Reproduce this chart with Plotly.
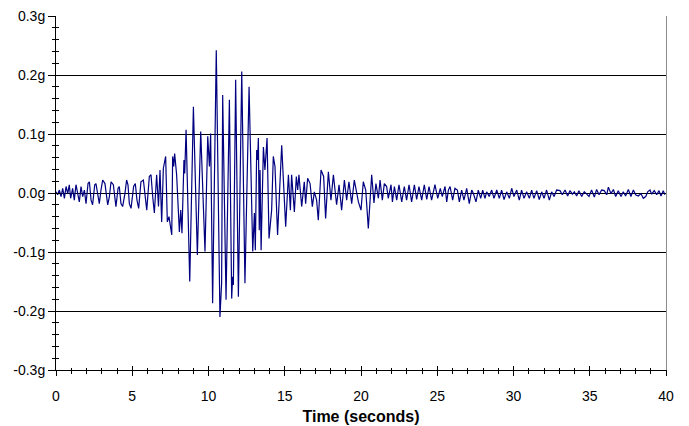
import plotly.graph_objects as go

# ---- data (local peaks/troughs of the record) ----
time_s = [
    0, 0.11, 0.22, 0.33, 0.44, 0.55, 0.66, 0.77, 0.87, 0.96, 1.09, 1.20, 1.31, 1.42, 1.53, 1.64, 1.75, 1.86, 1.97,
    2.10, 2.19, 2.30, 2.40, 2.54, 2.62, 2.73, 2.84, 2.95, 3.06, 3.21, 3.28, 3.39, 3.50, 3.61, 3.76, 3.83, 3.93,
    4.07, 4.15, 4.26, 4.37, 4.52, 4.63, 4.72, 4.81, 4.92, 5.09, 5.20, 5.31, 5.42, 5.57, 5.73, 5.84, 5.95,
    6.12, 6.23, 6.34, 6.45, 6.60, 6.72, 6.82, 6.93, 7.04, 7.19, 7.30, 7.41, 7.59, 7.65, 7.72, 7.78, 7.91,
    8.09, 8.18, 8.26, 8.39, 8.44, 8.53, 8.77, 9.01, 9.27, 9.49, 9.77, 9.95, 10.06, 10.14, 10.27, 10.51,
    10.75, 10.86, 10.93, 11.15, 11.37, 11.52, 11.58, 11.63, 11.78, 11.96, 12.18, 12.39, 12.66, 12.90,
    13.01, 13.07, 13.16, 13.22, 13.27, 13.33, 13.38, 13.45, 13.60, 13.70, 13.84, 13.97, 14.14, 14.25,
    14.36, 14.53, 14.80, 15.06, 15.24, 15.37, 15.45, 15.63, 15.76, 15.85, 15.93, 16.11, 16.28, 16.37,
    16.50, 16.66, 16.81, 16.94, 17.09, 17.20, 17.38, 17.55, 17.68, 17.86, 18.03, 18.19, 18.40, 18.56,
    18.73, 18.91, 19.06, 19.21, 19.39, 19.56, 19.83, 20.00, 20.15, 20.31, 20.48, 20.70, 20.85, 20.98,
    21.14, 21.25, 21.40, 21.53, 21.68, 21.79, 21.97, 22.06, 22.19, 22.34, 22.49, 22.67, 22.84, 22.99,
    23.15, 23.32, 23.50, 23.65, 23.80, 23.98, 24.15, 24.31, 24.46, 24.63, 24.85, 25.03, 25.20, 25.33,
    25.51, 25.62, 25.73, 25.84, 26.01, 26.16, 26.32, 26.45, 26.60, 26.75, 26.93, 27.10, 27.26, 27.37,
    27.54, 27.69, 27.85, 27.98, 28.13, 28.24, 28.41, 28.57, 28.72, 28.90, 29.07, 29.22, 29.38, 29.55,
    29.73, 29.88, 30.03, 30.21, 30.38, 30.53, 30.69, 30.86, 31.04, 31.19, 31.34, 31.52, 31.69, 31.85,
    32.00, 32.17, 32.35, 32.50, 32.66, 32.83, 33.05, 33.20, 33.38, 33.55, 33.70, 33.86, 33.99, 34.14,
    34.29, 34.47, 34.64, 34.80, 34.95, 35.12, 35.30, 35.45, 35.61, 35.78, 35.95, 36.11, 36.22, 36.39,
    36.55, 36.70, 36.87, 37.05, 37.20, 37.35, 37.53, 37.70, 37.86, 38.01, 38.18, 38.36, 38.51, 38.67,
    38.80, 38.95, 39.06, 39.23, 39.39, 39.54, 39.67, 39.82, 39.93,
]
accel_g = [
    0.002, -0.003, 0.005, -0.006, 0.008, -0.009, 0.011, -0.001, 0.014, -0.009, 0.008, -0.012, 0.014, 0.002, -0.015, 0.011, -0.006, 0.005, -0.018,
    0.016, 0.019, -0.012, -0.020, 0.014, 0.016, -0.001, -0.018, 0.005, 0.022, 0.016, -0.003, -0.020, -0.006, 0.019, 0.014, -0.001, -0.023,
    0.008, 0.011, -0.018, -0.023, -0.001, 0.022, 0.014, -0.018, -0.026, 0.011, 0.016, -0.012, -0.026, 0.019, 0.022, -0.006, -0.029,
    0.028, 0.031, -0.006, -0.034, 0.031, -0.023, 0.039, -0.049, 0.042, 0.062, -0.049, -0.040, -0.071, 0.062, 0.045, 0.067, 0.031,
    -0.066, -0.029, -0.068, 0.056, 0.033, 0.107, -0.150, 0.146, -0.105, 0.104, -0.099, 0.096, 0.045, 0.101, -0.187, 0.242,
    -0.210, -0.153, 0.166, -0.181, 0.158, -0.179, -0.142, -0.156, 0.192, -0.176, 0.206, -0.153, 0.180, -0.099,
    -0.034, -0.097, 0.073, 0.056, 0.093, -0.063, 0.039, -0.097, 0.078, 0.039, 0.093, -0.077, -0.029, 0.062,
    0.045, -0.071, 0.081, -0.057, 0.031, -0.029, 0.031, -0.032, 0.028, 0.005, 0.031, -0.023, 0.019, -0.018,
    0.025, 0.016, -0.023, 0.002, -0.012, -0.046, 0.039, 0.028, -0.043, 0.036, -0.012, 0.031, -0.020, 0.014,
    -0.029, 0.022, -0.012, 0.019, -0.018, 0.022, -0.015, -0.029, 0.019, 0.005, -0.060, 0.031, -0.017, 0.016,
    -0.009, 0.022, -0.012, 0.016, 0.011, -0.009, 0.014, -0.015, 0.011, -0.012, 0.014, -0.015, 0.011, -0.012,
    0.014, -0.015, 0.014, -0.011, 0.011, -0.012, 0.014, -0.011, 0.011, -0.012, 0.014, -0.009, 0.008, -0.006,
    0.011, -0.015, 0.005, 0.011, -0.012, 0.008, 0.005, -0.015, 0.005, -0.012, 0.008, -0.018, 0.005, -0.001,
    -0.015, 0.005, -0.009, 0.005, -0.009, 0.002, -0.006, 0.005, -0.009, 0.005, -0.009, 0.005, -0.011, 0.002,
    -0.009, 0.008, -0.006, 0.005, -0.012, 0.005, -0.009, 0.002, -0.009, 0.005, -0.009, 0.004, -0.011, 0.002,
    -0.009, 0.005, -0.012, 0.002, -0.006, 0.005, 0.004, -0.003, 0.005, -0.005, 0.004, -0.002, 0.002, -0.005,
    0.004, -0.006, 0.002, -0.002, -0.006, 0.005, -0.007, 0.006, -0.003, 0.005, 0.004, -0.003, 0.010, -0.001,
    0.006, -0.006, 0.004, -0.006, 0.002, -0.005, 0.006, -0.006, 0.005, -0.003, -0.005, -0.001, -0.009, -0.006,
    0.002, 0.005, -0.002, 0.004, -0.003, 0.004, -0.005, 0.004, -0.003,
]

x_tick_vals = [0, 5, 10, 15, 20, 25, 30, 35, 40]
x_tick_labels = ["0", "5", "10", "15", "20", "25", "30", "35", "40"]
y_tick_vals = [-0.3, -0.2, -0.1, 0.0, 0.1, 0.2, 0.3]
y_tick_labels = ["-0.3g", "-0.2g", "-0.1g", "0.0g", "0.1g", "0.2g", "0.3g"]
grid_vals = [-0.2, -0.1, 0.1, 0.2]
x_title = "Time (seconds)"

FONT = "Liberation Sans, Arial, sans-serif"
X_RANGE = [0, 40]
Y_RANGE = [-0.3, 0.3]

fig = go.Figure()
# helper (empty) traces so the overlay axes get drawn
fig.add_trace(go.Scatter(x=[], y=[], xaxis="x2", yaxis="y2", showlegend=False, hoverinfo="skip"))
fig.add_trace(go.Scatter(x=[], y=[], xaxis="x", yaxis="y3", showlegend=False, hoverinfo="skip"))
fig.add_trace(go.Scatter(x=[], y=[], xaxis="x", yaxis="y4", showlegend=False, hoverinfo="skip"))
fig.add_trace(go.Scatter(
    x=time_s, y=accel_g, mode="lines",
    line=dict(color="#000080", width=1.2),
    showlegend=False,
))

# page body adds an 8px offset, so the figure is sized/margined to compensate
fig.update_layout(
    width=681, height=418,
    margin=dict(l=48, r=23, t=8, b=56),
    paper_bgcolor="white", plot_bgcolor="white",
    font=dict(family=FONT, size=14, color="black"),
    showlegend=False,
    xaxis=dict(
        range=X_RANGE, tickvals=x_tick_vals, ticktext=x_tick_labels,
        ticks="outside", ticklen=5, tickwidth=1, tickcolor="black",
        minor=dict(dtick=1, ticks="outside", ticklen=3, tickcolor="black"),
        showline=True, linecolor="black", linewidth=1,
        showgrid=False, zeroline=False, automargin=False,
        ticklabelstandoff=8, ticklabeloverflow="allow",
        title=dict(text=x_title, font=dict(family=FONT, size=16, weight="bold"), standoff=8),
        tickfont=dict(size=14),
    ),
    xaxis2=dict(
        range=X_RANGE, overlaying="x", anchor="y2", side="bottom",
        tickvals=x_tick_vals, ticks="inside", ticklen=4, tickcolor="black",
        minor=dict(dtick=1, ticks="inside", ticklen=2, tickcolor="black"),
        showticklabels=False, showgrid=False, zeroline=False, showline=False, automargin=False,
    ),
    yaxis=dict(
        range=Y_RANGE, tickvals=y_tick_vals, ticktext=y_tick_labels,
        ticks="outside", ticklen=7, tickwidth=1, tickcolor="black",
        minor=dict(dtick=0.02, ticks="outside", ticklen=3, tickcolor="black"),
        showline=True, linecolor="black", linewidth=1,
        showgrid=False, zeroline=True, zerolinecolor="black", zerolinewidth=1,
        automargin=False, ticklabeloverflow="allow", tickfont=dict(size=14),
    ),
    yaxis2=dict(
        range=Y_RANGE, overlaying="y", anchor="x2", side="left",
        tickvals=y_tick_vals, ticks="inside", ticklen=5, tickcolor="black",
        minor=dict(dtick=0.02, ticks="inside", ticklen=3, tickcolor="black"),
        showticklabels=False, showgrid=False, zeroline=False, showline=False, automargin=False,
    ),
    yaxis3=dict(
        range=Y_RANGE, overlaying="y", anchor="x", side="left",
        tickvals=grid_vals, ticks="", showticklabels=False,
        showgrid=True, gridcolor="black", gridwidth=1,
        zeroline=False, showline=False, automargin=False,
    ),
    yaxis4=dict(
        range=Y_RANGE, overlaying="y", anchor="x", side="right",
        ticks="", showticklabels=False, showgrid=False, zeroline=False,
        showline=True, linecolor="#8c8c8c", linewidth=1, automargin=False,
    ),
)

fig.write_html("out.html")
